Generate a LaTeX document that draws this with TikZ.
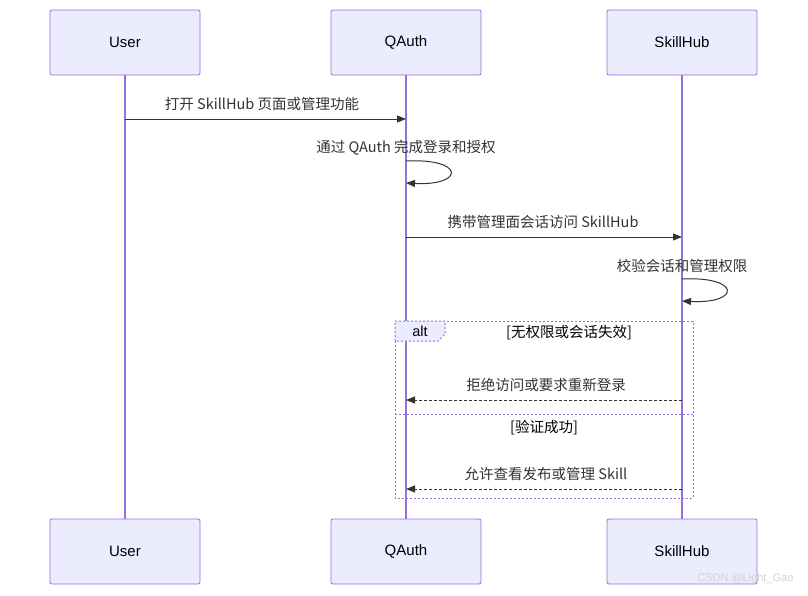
\documentclass[tikz,border=0pt]{standalone}
\usepackage{fontspec}
\setmainfont{Liberation Sans}
\newfontfamily\cjk{Noto Sans CJK SC}
\usetikzlibrary{arrows.meta}
\definecolor{boxfill}{HTML}{ECECFF}
\definecolor{boxline}{HTML}{9370DB}
\definecolor{txt}{HTML}{333333}
\tikzset{
  actor/.style={draw=boxline,fill=boxfill,rounded corners=2pt,minimum width=150pt,minimum height=65pt,font=\fontsize{15}{18}\selectfont,text=black,line width=0.8pt},
  life/.style={draw=boxline,line width=1.3pt},
  msg/.style={draw=txt,line width=1pt,-{Triangle[length=9pt,width=7pt]}},
  reply/.style={msg,dashed,dash pattern=on 3pt off 2pt},
  lbl/.style={font=\cjk\fontsize{14.5}{17}\selectfont,text=txt},
  frame/.style={draw=boxline,line width=1pt,dash pattern=on 2pt off 2pt}
}
\begin{document}
\begin{tikzpicture}[x=1pt,y=-1pt]
\useasboundingbox (0,0) rectangle (808,595);
\foreach \n/\x/\t in {u/125/User,q/406/QAuth,s/682/SkillHub}{
  \draw[life] (\x,75) -- (\x,519);
  \node[actor] (\n t) at (\x,42.5) {\t};
  \node[actor] (\n b) at (\x,551.5) {\t};
}
\coordinate (u1) at (125,119); \coordinate (q1) at (406,119);
\draw[msg] (u1) -- (q1);
\node[lbl] at (262,104) {打开 SkillHub 页面或管理功能};
\node[lbl] at (406,148) {通过 QAuth 完成登录和授权};
\coordinate (q2a) at (406,161); \coordinate (q2b) at (406,183);
\draw[msg] (q2a) .. controls (465,158) and (465,186) .. (q2b);
\coordinate (q3) at (406,237); \coordinate (s3) at (682,237);
\draw[msg] (q3) -- (s3);
\node[lbl] at (543,222) {携带管理面会话访问 SkillHub};
\node[lbl] at (682,266) {校验会话和管理权限};
\coordinate (s4a) at (682,279); \coordinate (s4b) at (682,301);
\draw[msg] (s4a) .. controls (741,276) and (741,304) .. (s4b);
% alt frame
\draw[frame] (395,321) rectangle (693,498);
\draw[frame,fill=boxfill] (395,321) -- (445,321) -- (445,334) -- (438,341) -- (395,341) -- cycle;
\node[font=\fontsize{14.5}{17}\selectfont,text=black] at (420,331.5) {alt};
\node[lbl,text=black] at (569,333) {[无权限或会话失效]};
\coordinate (s5) at (682,400); \coordinate (q5) at (406,400);
\draw[reply] (s5) -- (q5);
\node[lbl] at (546,385) {拒绝访问或要求重新登录};
\draw[frame] (395,414) -- (693,414);
\node[lbl,text=black] at (544,428) {[验证成功]};
\coordinate (s6) at (682,489); \coordinate (q6) at (406,489);
\draw[reply] (s6) -- (q6);
\node[lbl] at (546,474) {允许查看发布或管理 Skill};
\node[font=\fontsize{11}{13}\selectfont,text=black!18,anchor=east] at (797,579) {CSDN @Light\_Gao};
\end{tikzpicture}
\end{document}
